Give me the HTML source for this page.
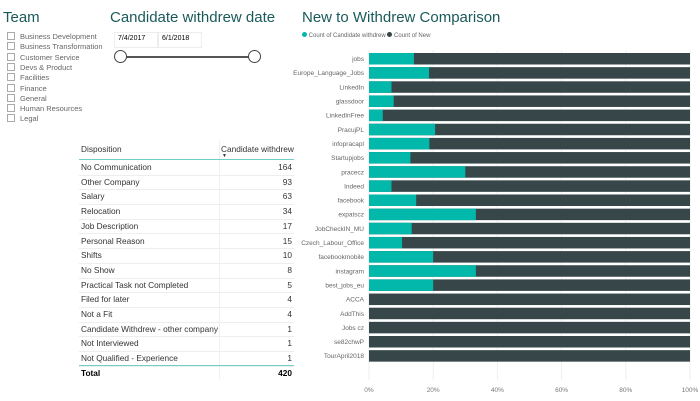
<!DOCTYPE html>
<html><head><meta charset="utf-8"><style>
body{margin:0;width:700px;height:401px;background:#fff;font-family:"Liberation Sans",sans-serif;position:relative;overflow:hidden}
.abs{position:absolute}
.title{color:#1a5a5a;font-size:15px}
.team-item{position:absolute;left:7px;font-size:7.5px;color:#666}
.team-item span{display:inline-block;width:6px;height:6px;border:1px solid #aaa;margin-right:5px;vertical-align:-1px}
.row{position:absolute;left:79px;width:215px;height:14.7px;border-bottom:1px solid #eee;font-size:8.3px;color:#333}
.row .l{position:absolute;left:2px;top:2px}
.row .v{position:absolute;right:2px;top:2px}
</style></head><body>
<div class="abs title" style="left:3px;top:9px">Team</div>
<div id="team"></div>
<div class="abs title" style="left:110px;top:9px">Candidate withdrew date</div>
<div class="abs" style="left:114px;top:32px;width:39px;height:12px;border:1px solid #eee;font-size:7px;padding:2px 0 0 3px">7/4/2017</div>
<div class="abs" style="left:158px;top:32px;width:39px;height:12px;border:1px solid #eee;font-size:7px;padding:2px 0 0 3px">6/1/2018</div>
<div class="abs" style="left:121px;top:56px;width:134px;height:2px;background:#555"></div>
<div class="abs" style="left:114px;top:50px;width:11px;height:11px;border:1.5px solid #444;border-radius:50%;background:#fff"></div>
<div class="abs" style="left:248px;top:50px;width:11px;height:11px;border:1.5px solid #444;border-radius:50%;background:#fff"></div>

<div>
<div class="abs" style="left:81px;top:144px;font-size:8.3px;color:#333">Disposition</div>
<div class="abs" style="left:221px;top:144px;font-size:8.3px;color:#333">Candidate withdrew</div>
<div class="abs" style="left:222px;top:153px;font-size:5px;color:#333">▼</div>
<div class="abs" style="left:219px;top:140px;width:1px;height:240px;background:#f0f0f0"></div>
<div class="abs" style="left:79px;top:159px;width:215px;height:1px;background:#70cfc4"></div>
<div id="rows"></div>
<div class="abs" style="left:79px;top:365px;width:215px;height:1px;background:#70cfc4"></div>
<div class="abs" style="left:81px;top:368px;font-size:8.3px;font-weight:bold">Total</div>
<div class="abs" style="left:250px;width:42px;text-align:right;top:368px;font-size:8.3px;font-weight:bold">420</div>
</div>

<div class="abs title" style="left:302px;top:9px">New to Withdrew Comparison</div>
<div class="abs" style="left:302px;top:32px;font-size:6px;color:#666">
<span><span style="display:inline-block;width:5px;height:5px;border-radius:50%;background:#01b8aa"></span> Count of Candidate withdrew</span>
<span><span style="display:inline-block;width:5px;height:5px;border-radius:50%;background:#374649"></span> Count of New</span></div>
<svg id="chart" class="abs" style="left:0;top:0" width="700" height="401"></svg>

<script>
const teams=["Business Development","Business Transformation","Customer Service","Devs & Product","Facilities","Finance","General","Human Resources","Legal"];
const dispositions=["No Communication","Other Company","Salary","Relocation","Job Description","Personal Reason","Shifts","No Show","Practical Task not Completed","Filed for later","Not a Fit","Candidate Withdrew - other company","Not Interviewed","Not Qualified - Experience"];
const dispCounts=[164,93,63,34,17,15,10,8,5,4,4,1,1,1];
const sources=["jobs","Europe_Language_Jobs","LinkedIn","glassdoor","LinkedInFree","PracujPL","infopracapl","Startupjobs","pracecz","Indeed","facebook","expatscz","JobCheckIN_MU","Czech_Labour_Office","facebookmobile","instagram","best_jobs_eu","ACCA","AddThis","Jobs cz","se82chwP","TourApril2018"];
const withdrewPct=[14,18.7,7,7.7,4.3,20.6,18.8,12.9,30,7,14.7,33.3,13.3,10.3,20,33.3,20,0,0,0,0,0];
const tickLabels=["0%","20%","40%","60%","80%","100%"];
const tickValues=[0,20,40,60,80,100];

const team=document.getElementById('team');
teams.forEach((t,i)=>{const d=document.createElement('div');d.className='team-item';d.style.top=(32+i*10.3)+'px';d.innerHTML='<span></span>'+t;


team.appendChild(d);});

const rows=document.getElementById('rows');
dispositions.forEach((t,i)=>{const d=document.createElement('div');d.className='row';d.style.top=(160+i*14.7)+'px';
d.innerHTML='<span class="l">'+t+'</span><span class="v">'+dispCounts[i]+'</span>';


rows.appendChild(d);});

const svg=document.getElementById('chart');const NS='http://www.w3.org/2000/svg';
const x0=369,x1=690,yTop=53,pitch=14.15,bh=11.5;
const xs=v=>x0+(x1-x0)*v/100;
const ys=i=>yTop+i*pitch;
function el(tag,attrs,name,inter){const e=document.createElementNS(NS,tag);for(const k in attrs)e.setAttribute(k,attrs[k]);


svg.appendChild(e);return e;}
tickValues.forEach((v,i)=>{
el('line',{x1:xs(v),x2:xs(v),y1:50,y2:380,stroke:'#eee','stroke-width':1},'gridline','false');
const t=el('text',{x:xs(v),y:392,'font-size':6.5,fill:'#777','text-anchor':'middle','font-family':'Liberation Sans'},'x-tick-label','false');
t.textContent=tickLabels[i];});
sources.forEach((s,i)=>{const y=ys(i);
const t=el('text',{x:364,y:y+bh/2+2.3,'font-size':6.5,fill:'#666','text-anchor':'end','font-family':'Liberation Sans'},'y-category-label','false');t.textContent=s;
el('rect',{x:xs(0),y:y,width:xs(100)-xs(0),height:bh,fill:'#374649'},'bar-new','true');
el('rect',{x:xs(0),y:y,width:xs(withdrewPct[i])-xs(0),height:bh,fill:'#01b8aa'},'bar-withdrew','true');});
</script>
</body></html>
